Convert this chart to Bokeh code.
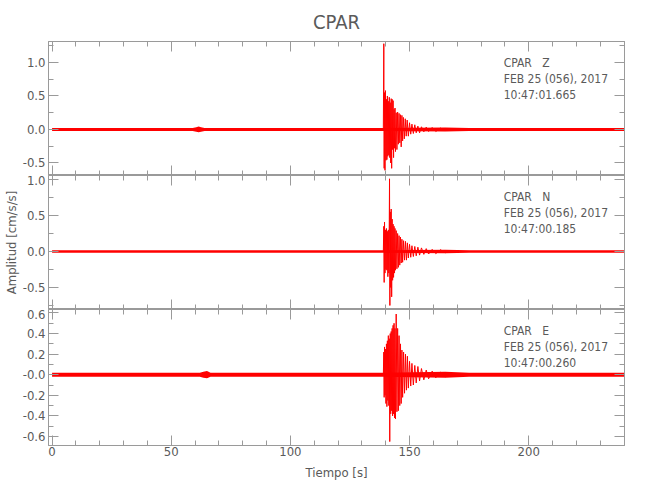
from bokeh.plotting import figure
from bokeh.models import Range1d, LinearAxis, SingleIntervalTicker, NumeralTickFormatter, CustomJSTickFormatter
from bokeh.layouts import column
from bokeh.embed import file_html
from bokeh.resources import INLINE
from bokeh.core.properties import value

# ---------------- data ----------------
station = "CPAR"
components = ["Z", "N", "E"]
dates = ["FEB 25 (056), 2017", "FEB 25 (056), 2017", "FEB 25 (056), 2017"]
start_times = ["10:47:01.665", "10:47:00.185", "10:47:00.260"]

# background noise envelopes (time, upper, lower)
z_noise_t = [0, 59, 60.5, 61.5, 62.5, 64, 139, 165, 175, 240]
z_noise_up = [0.022, 0.022, 0.035, 0.045, 0.035, 0.022, 0.022, 0.03, 0.022, 0.022]
z_noise_lo = [-0.022, -0.022, -0.035, -0.04, -0.035, -0.022, -0.022, -0.03, -0.022, -0.022]

n_noise_t = [0, 139, 165, 175, 240]
n_noise_up = [0.016, 0.016, 0.025, 0.018, 0.016]
n_noise_lo = [-0.016, -0.016, -0.025, -0.018, -0.016]

e_noise_t = [0, 62, 63.5, 65, 66.5, 139, 165, 175, 240]
e_noise_up = [0.02, 0.02, 0.03, 0.035, 0.02, 0.02, 0.03, 0.02, 0.02]
e_noise_lo = [-0.02, -0.02, -0.03, -0.035, -0.02, -0.02, -0.03, -0.02, -0.02]

# earthquake wave train: successive extrema (time s, amplitude cm/s/s)
z_evt_t = [139.0, 139.2, 139.35, 139.5, 139.7, 139.9, 140.1, 140.3, 140.5, 140.7,
           140.9, 141.1, 141.3, 141.5, 141.7, 141.9, 142.1, 142.3, 142.5, 142.7,
           142.9, 143.1, 143.3, 143.5, 143.7, 143.9, 144.1, 144.4, 144.7, 145.0,
           145.3, 145.6, 145.9, 146.2, 146.5, 146.8, 147.1, 147.4, 147.8, 148.2,
           148.6, 149.0, 149.5, 150.0, 150.5, 151.0, 151.6, 152.2, 152.8, 153.5,
           154.2, 155.0, 156.0, 157.0, 158.0, 159.5, 161.0, 163.0]
z_evt_a = [0.02, 1.28, -0.58, 0.55, -0.61, 0.58, -0.46, 0.45, -0.45, 0.50,
           -0.40, 0.42, -0.38, 0.48, -0.42, 0.40, -0.50, 0.46, -0.58, 0.45,
           -0.30, 0.43, -0.42, 0.30, -0.28, 0.32, -0.33, 0.25, -0.30, 0.26,
           -0.22, 0.24, -0.20, 0.22, -0.26, 0.21, -0.17, 0.18, -0.14, 0.16,
           -0.10, 0.14, -0.10, 0.10, -0.07, 0.08, -0.06, 0.07, -0.05, 0.05,
           -0.05, 0.04, -0.035, 0.035, -0.03, 0.03, -0.03, 0.025]

n_evt_t = [139.0, 139.2, 139.35, 139.5, 139.7, 139.9, 140.1, 140.3, 140.5, 140.7,
           140.9, 141.1, 141.3, 141.5, 141.6, 141.75, 141.9, 142.1, 142.3, 142.5,
           142.7, 142.9, 143.1, 143.3, 143.5, 143.7, 143.9, 144.1, 144.4, 144.7,
           145.0, 145.3, 145.6, 145.9, 146.2, 146.5, 146.8, 147.1, 147.5, 147.9,
           148.3, 148.7, 149.1, 149.5, 150.0, 150.5, 151.0, 151.6, 152.2, 152.8,
           153.5, 154.2, 155.0, 156.0, 157.0, 158.0, 159.5, 161.0, 163.0, 165.0]
n_evt_a = [0.0, 0.35, -0.43, 0.41, -0.30, 0.30, -0.25, 0.32, -0.26, 0.28,
           -0.35, 0.30, -0.30, 0.45, 1.01, -0.75, 0.55, -0.50, 0.59, -0.63,
           0.45, -0.40, 0.38, -0.36, 0.35, -0.30, 0.32, -0.26, 0.29, -0.24,
           0.25, -0.22, 0.22, -0.19, 0.20, -0.16, 0.17, -0.15, 0.15, -0.12,
           0.14, -0.12, 0.12, -0.09, 0.10, -0.08, 0.08, -0.07, 0.07, -0.06,
           0.06, -0.05, 0.05, -0.04, 0.04, -0.035, 0.03, -0.03, 0.025, -0.02]

e_evt_t = [139.0, 139.2, 139.35, 139.5, 139.7, 139.9, 140.1, 140.3, 140.5, 140.7,
           140.9, 141.1, 141.3, 141.5, 141.7, 141.9, 142.1, 142.3, 142.5, 142.7,
           142.9, 143.1, 143.3, 143.5, 143.7, 143.9, 144.1, 144.4, 144.7, 145.0,
           145.3, 145.6, 145.9, 146.2, 146.5, 146.8, 147.1, 147.5, 147.9, 148.3,
           148.7, 149.1, 149.5, 150.0, 150.5, 151.0, 151.6, 152.2, 152.8, 153.5,
           154.2, 155.0, 156.0, 157.0, 158.0, 159.5, 161.0, 163.0, 165.0]
e_evt_a = [0.0, 0.22, -0.22, 0.27, -0.20, 0.25, -0.28, 0.30, -0.31, 0.33,
           -0.25, 0.38, -0.30, 0.35, -0.65, 0.40, -0.38, 0.42, -0.35, 0.45,
           -0.40, 0.48, -0.38, 0.50, -0.42, 0.45, -0.43, 0.59, -0.36, 0.45,
           -0.35, 0.38, -0.30, 0.30, -0.28, 0.24, -0.22, 0.22, -0.18, 0.20,
           -0.15, 0.18, -0.13, 0.13, -0.11, 0.11, -0.10, 0.09, -0.08, 0.08,
           -0.06, 0.06, -0.05, 0.045, -0.04, 0.035, -0.03, 0.025, -0.02]

# ---------------- styling ----------------
FONT = "'DejaVu Sans Condensed', 'Liberation Sans', sans-serif"
AX = "#9a9a9a"
LBL = "#5a5a5a"
RED = "#ff0000"
X_RANGE = (-1.5, 240.2)
W = 642
ML, MR = 48, 18
NBSP = "\u00a0"


def style_axis(ax, labels=True):
    ax.axis_line_color = AX
    ax.major_tick_line_color = AX
    ax.minor_tick_line_color = AX
    ax.major_tick_in = 10
    ax.major_tick_out = 0
    ax.minor_tick_in = 5
    ax.minor_tick_out = 0
    ax.major_label_text_font = FONT
    ax.major_label_text_color = LBL
    ax.major_label_text_font_size = "13px"
    ax.axis_label_text_font = FONT
    ax.axis_label_text_font_style = "normal"
    ax.axis_label_text_color = LBL
    ax.axis_label_text_font_size = "13px"
    if not labels:
        ax.formatter = CustomJSTickFormatter(code="return ''")
        ax.major_label_text_font_size = "1px"
        ax.major_label_standoff = 0


def panel(height, yr, yint, yminor, top, bottom, noise, evt, comp, date, tstart,
          xlabels=False, ylabel=None, title=None, zero_override=None):
    p = figure(width=W, height=height, x_range=Range1d(*X_RANGE), y_range=Range1d(*yr),
               output_backend="svg", toolbar_location=None,
               x_axis_location=None, y_axis_location=None)
    p.grid.visible = False
    p.outline_line_color = AX
    p.min_border_left = ML
    p.min_border_right = MR
    p.min_border_top = top
    p.min_border_bottom = bottom
    p.background_fill_color = "white"
    p.border_fill_color = "white"

    if title:
        p.title.text = title
        p.title.align = "center"
        p.title.text_font = FONT
        p.title.text_font_size = "20px"
        p.title.text_font_style = "normal"
        p.title.text_color = LBL
        p.title.standoff = 15

    bx = LinearAxis(ticker=SingleIntervalTicker(interval=50, num_minor_ticks=5))
    style_axis(bx, labels=xlabels)
    if xlabels:
        bx.formatter = NumeralTickFormatter(format="0")
        bx.axis_label = "Tiempo [s]"
        bx.major_label_standoff = 1
        bx.axis_label_standoff = 6
    p.add_layout(bx, "below")

    tx = LinearAxis(ticker=SingleIntervalTicker(interval=50, num_minor_ticks=5))
    style_axis(tx, labels=False)
    p.add_layout(tx, "above")

    ly = LinearAxis(ticker=SingleIntervalTicker(interval=yint, num_minor_ticks=yminor),
                    formatter=NumeralTickFormatter(format="0.0"))
    style_axis(ly)
    ly.major_label_standoff = 3
    if zero_override:
        ly.major_label_overrides = {0: zero_override}
    if ylabel:
        ly.axis_label = ylabel
        ly.axis_label_standoff = 1
    p.add_layout(ly, "left")

    ry = LinearAxis(ticker=SingleIntervalTicker(interval=yint, num_minor_ticks=yminor))
    style_axis(ry, labels=False)
    p.add_layout(ry, "right")

    nt, nu, nl = noise
    p.varea(x=nt, y1=nl, y2=nu, fill_color=RED)
    p.line(x=nt, y=[0] * len(nt), line_color=RED, line_width=1)
    et, ea = evt
    p.line(x=et, y=ea, line_color=RED, line_width=1)

    # annotation block: 21.5, 37.5, 53.5 px below the frame top
    frame_h = height - top - bottom
    span = yr[1] - yr[0]
    ys = [yr[1] - d / frame_h * span for d in (21.5, 37.5, 53.5)]
    texts = [station + NBSP * 3 + comp, date, tstart]
    p.text(x=[189.5] * 3, y=ys, text=texts, text_font=value(FONT), text_font_size="12px",
           text_color=LBL, text_baseline="middle", text_align="left")
    return p


p1 = panel(175, (-0.687, 1.313), 0.5, 2, 41, 0, (z_noise_t, z_noise_up, z_noise_lo),
           (z_evt_t, z_evt_a), components[0], dates[0], start_times[0], title=station)
p2 = panel(134, (-0.806, 1.056), 0.5, 2, 0, 0, (n_noise_t, n_noise_up, n_noise_lo),
           (n_evt_t, n_evt_a), components[1], dates[1], start_times[1],
           ylabel="Amplitud [cm/s/s]")
p3 = panel(181, (-0.688, 0.634), 0.2, 2, 0, 45, (e_noise_t, e_noise_up, e_noise_lo),
           (e_evt_t, e_evt_a), components[2], dates[2], start_times[2],
           xlabels=True, zero_override="-0.0")

layout = column(p1, p2, p3, spacing=0)
open("out.html", "w").write(file_html(layout, INLINE))
